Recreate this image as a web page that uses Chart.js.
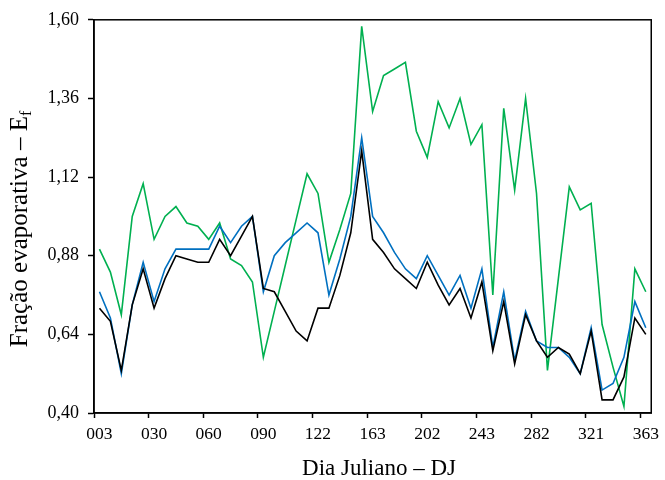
<!DOCTYPE html>
<html>
<head>
<meta charset="utf-8">
<script src="https://cdn.jsdelivr.net/npm/chart.js@4"></script>
<style>
  html, body { margin: 0; padding: 0; background: #fff; }
  #wrap { width: 665px; height: 480px; }
</style>
</head>
<body>
<div id="wrap"><canvas id="chart" width="665" height="480"></canvas></div>
<script>
// rótulos do eixo x (um a cada 5 datas)
const tickLabels = ["003", "030", "060", "090", "122", "163", "202", "243", "282", "321", "363"];
const tickEvery = 5;
const nPoints = 51;

// séries
const seriesGreen = [0.90, 0.83, 0.70, 1.00, 1.10, 0.93, 1.00, 1.03, 0.98, 0.97,
  0.93, 0.98, 0.87, 0.85, 0.80, 0.57, 0.71, 0.85, 0.99, 1.13,
  1.07, 0.86, 0.96, 1.07, 1.58, 1.32, 1.43, 1.45, 1.47, 1.26,
  1.18, 1.35, 1.27, 1.36, 1.22, 1.28, 0.76, 1.33, 1.08, 1.36,
  1.07, 0.53, 0.81, 1.09, 1.02, 1.04, 0.67, 0.54, 0.42, 0.84, 0.77];
const seriesBlue = [0.77, 0.69, 0.52, 0.73, 0.86, 0.74, 0.84, 0.90, 0.90, 0.90,
  0.90, 0.97, 0.92, 0.97, 1.00, 0.77, 0.88, 0.92, 0.95, 0.98,
  0.95, 0.76, 0.87, 1.00, 1.24, 1.00, 0.95, 0.89, 0.84, 0.81,
  0.88, 0.82, 0.76, 0.82, 0.72, 0.84, 0.60, 0.77, 0.56, 0.71,
  0.62, 0.60, 0.60, 0.57, 0.52, 0.66, 0.47, 0.49, 0.57, 0.74, 0.66];
const seriesBlack = [0.72, 0.68, 0.53, 0.73, 0.84, 0.72, 0.81, 0.88, 0.87, 0.86,
  0.86, 0.93, 0.88, 0.94, 1.00, 0.78, 0.77, 0.71, 0.65, 0.62,
  0.72, 0.72, 0.82, 0.95, 1.20, 0.93, 0.89, 0.84, 0.81, 0.78,
  0.86, 0.79, 0.73, 0.78, 0.69, 0.80, 0.59, 0.74, 0.55, 0.70,
  0.62, 0.57, 0.60, 0.58, 0.52, 0.65, 0.44, 0.44, 0.51, 0.69, 0.64];

// eixo y
const yMin = 0.40;
const yMax = 1.60;
const yStep = 0.24;

const FONT = "'Liberation Serif', 'Times New Roman', serif";

// categorias: só a cada 5 pontos recebe rótulo
const categories = [];
for (let i = 0; i < nPoints; i++) {
  categories.push(i % tickEvery === 0 ? tickLabels[i / tickEvery] : "");
}

function line(data, color) {
  return {
    data,
    borderColor: color,
    borderWidth: 1.6,
    pointRadius: 0,
    tension: 0,
    fill: false,
  };
}

// moldura + títulos dos eixos
const framePlugin = {
  id: "frame",
  afterDraw(chart) {
    const { ctx, chartArea } = chart;
    ctx.save();
    ctx.strokeStyle = "#000";
    ctx.lineWidth = 1.5;
    ctx.strokeRect(chartArea.left, chartArea.top, chartArea.right - chartArea.left, chartArea.bottom - chartArea.top);

    // título x
    ctx.fillStyle = "#000";
    ctx.font = `23px ${FONT}`;
    ctx.textAlign = "center";
    ctx.textBaseline = "alphabetic";
    ctx.fillText("Dia Juliano – DJ", 379, 475);

    // título y com subscrito
    const main = "Fração evaporativa – E";
    const sub = "f";
    ctx.translate(27, 229);
    ctx.rotate(-Math.PI / 2);
    ctx.font = `25px ${FONT}`;
    const wMain = ctx.measureText(main).width;
    ctx.font = `16px ${FONT}`;
    const wSub = ctx.measureText(sub).width;
    const start = -(wMain + wSub) / 2;
    ctx.textAlign = "left";
    ctx.font = `25px ${FONT}`;
    ctx.fillText(main, start, 0);
    ctx.font = `16px ${FONT}`;
    ctx.fillText(sub, start + wMain, 4);
    ctx.restore();
  },
};

new Chart(document.getElementById("chart").getContext("2d"), {
  type: "line",
  data: {
    labels: categories,
    datasets: [
      line(seriesBlack, "#000000"),
      line(seriesBlue, "#0070C0"),
      line(seriesGreen, "#00B050"),
    ],
  },
  options: {
    responsive: false,
    animation: false,
    layout: { padding: { top: 17, right: 9, left: 0, bottom: 0 } },
    plugins: {
      legend: { display: false },
      tooltip: { enabled: false },
    },
    scales: {
      x: {
        type: "category",
        offset: true,
        afterFit(scale) { scale.height = 67; },
        grid: {
          offset: true,
          drawOnChartArea: false,
          drawTicks: true,
          tickLength: 5,
          tickWidth: 1.5,
          tickColor: (c) => (c.index % tickEvery === 0 && c.index < nPoints ? "#000" : "rgba(0,0,0,0)"),
        },
        border: { display: true, color: "#000", width: 1.5 },
        ticks: {
          autoSkip: false,
          maxRotation: 0,
          minRotation: 0,
          padding: 6,
          color: "#000",
          font: { family: FONT, size: 17.5 },
        },
      },
      y: {
        min: yMin,
        max: yMax,
        afterFit(scale) { scale.width = 94; },
        grid: {
          drawOnChartArea: false,
          drawTicks: true,
          tickLength: 6,
          tickWidth: 1.5,
          tickColor: "#000",
        },
        border: { display: true, color: "#000", width: 1.5 },
        ticks: {
          stepSize: yStep,
          padding: 9,
          color: "#000",
          font: { family: FONT, size: 18 },
          callback: (v) => v.toFixed(2).replace(".", ","),
        },
      },
    },
  },
  plugins: [framePlugin],
});
</script>
</body>
</html>
